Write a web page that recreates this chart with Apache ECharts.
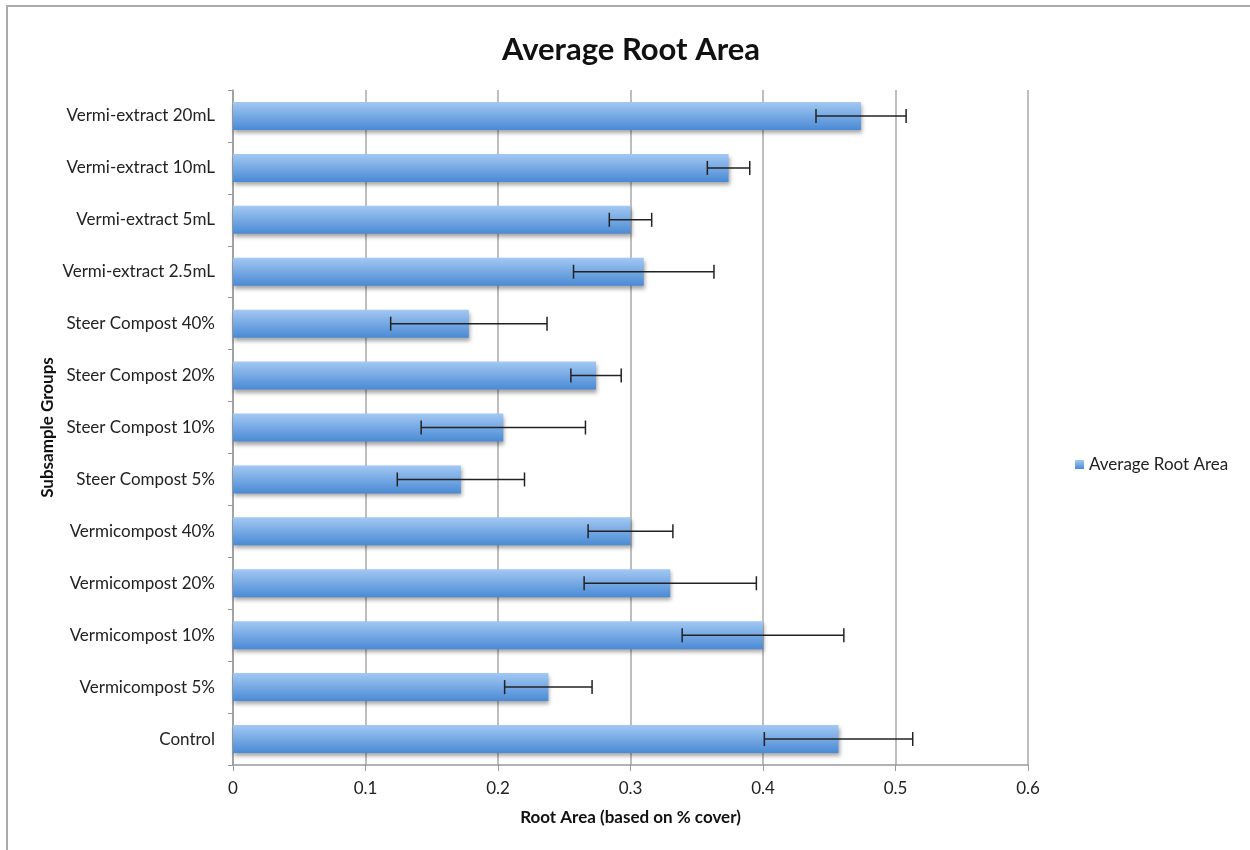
<!DOCTYPE html>
<html>
<head>
<meta charset="utf-8">
<script src="https://cdn.jsdelivr.net/npm/echarts@6/dist/echarts.min.js"></script>
<style>html,body{margin:0;padding:0;background:#fff}#c{width:1250px;height:850px}</style>
</head>
<body>
<div id="c"></div>
<script>
var categories = ["Control","Vermicompost 5%","Vermicompost 10%","Vermicompost 20%","Vermicompost 40%","Steer Compost 5%","Steer Compost 10%","Steer Compost 20%","Steer Compost 40%","Vermi-extract 2.5mL","Vermi-extract 5mL","Vermi-extract 10mL","Vermi-extract 20mL"];
var means = [0.457,0.238,0.400,0.330,0.300,0.172,0.204,0.274,0.178,0.310,0.300,0.374,0.474];
var errors = [0.056,0.033,0.061,0.065,0.032,0.048,0.062,0.019,0.059,0.053,0.016,0.016,0.034];
var xTicks = [0,0.1,0.2,0.3,0.4,0.5,0.6];

var FONT = "Lato";
var chart = echarts.init(document.getElementById('c'));
var errData = categories.map(function(c,i){return [i, means[i]-errors[i], means[i]+errors[i]];});
chart.setOption({
  backgroundColor:'#fff',
  animation:false,
  textStyle:{fontFamily:FONT},
  title:{text:'Average Root Area',left:626,textAlign:'center',top:29,textStyle:{fontFamily:FONT,fontSize:31,fontWeight:'bold',color:'#111'}},
  graphic:[{type:'rect',shape:{x:7,y:6,width:1280,height:900},style:{fill:'none',stroke:'#aaa',lineWidth:2},silent:true}],
  legend:{data:['Average Root Area'],left:1070,top:451,icon:'rect',itemWidth:9,itemHeight:9,itemGap:4,textStyle:{fontFamily:FONT,fontSize:17,color:'#222'}},
  grid:{left:233,right:222,top:90,bottom:85,containLabel:false},
  xAxis:{type:'value',min:0,max:0.6,interval:0.1,
    name:'Root Area (based on % cover)',nameLocation:'middle',nameGap:44,nameMoveOverlap:false,
    nameTextStyle:{fontFamily:FONT,fontSize:17,fontWeight:'bold',color:'#111'},
    axisLine:{show:true,lineStyle:{color:'#999',width:1.5}},
    axisTick:{show:true,length:6,lineStyle:{color:'#999'}},
    axisLabel:{fontFamily:FONT,fontSize:17,color:'#222',margin:15,formatter:function(v){return xTicks.indexOf(Math.round(v*10)/10)>=0?String(Math.round(v*10)/10):'';}},
    splitLine:{show:true,lineStyle:{color:'#a8a8a8',width:1.5}}},
  yAxis:{type:'category',data:categories,
    name:'Subsample Groups',nameLocation:'middle',nameGap:177,nameRotate:90,nameMoveOverlap:false,
    nameTextStyle:{fontFamily:FONT,fontSize:17,fontWeight:'bold',color:'#111'},
    axisLine:{show:true,lineStyle:{color:'#999',width:1.5}},
    axisTick:{show:true,length:5,lineStyle:{color:'#999'}},
    axisLabel:{fontFamily:FONT,fontSize:17,color:'#222',margin:18},
    splitLine:{show:false}},
  series:[
    {name:'Average Root Area',type:'bar',data:means,barWidth:28,
     itemStyle:{color:new echarts.graphic.LinearGradient(0,0,0,1,[{offset:0,color:'#a3c8f3'},{offset:1,color:'#4a8ad4'}]),
       shadowColor:'rgba(0,0,0,0.35)',shadowBlur:4,shadowOffsetY:3,shadowOffsetX:1}},
    {name:'err',type:'custom',data:errData,z:10,
     renderItem:function(params,api){
       var y=api.value(0), lo=api.coord([api.value(1),y]), hi=api.coord([api.value(2),y]);
       var cap=7;
       var st={stroke:'#222',lineWidth:1.5};
       return {type:'group',children:[
         {type:'line',shape:{x1:lo[0],y1:lo[1],x2:hi[0],y2:hi[1]},style:st},
         {type:'line',shape:{x1:lo[0],y1:lo[1]-cap,x2:lo[0],y2:lo[1]+cap},style:st},
         {type:'line',shape:{x1:hi[0],y1:hi[1]-cap,x2:hi[0],y2:hi[1]+cap},style:st}
       ]};
     },
     encode:{y:0,x:[1,2]}}
  ]
});
</script>
</body>
</html>
